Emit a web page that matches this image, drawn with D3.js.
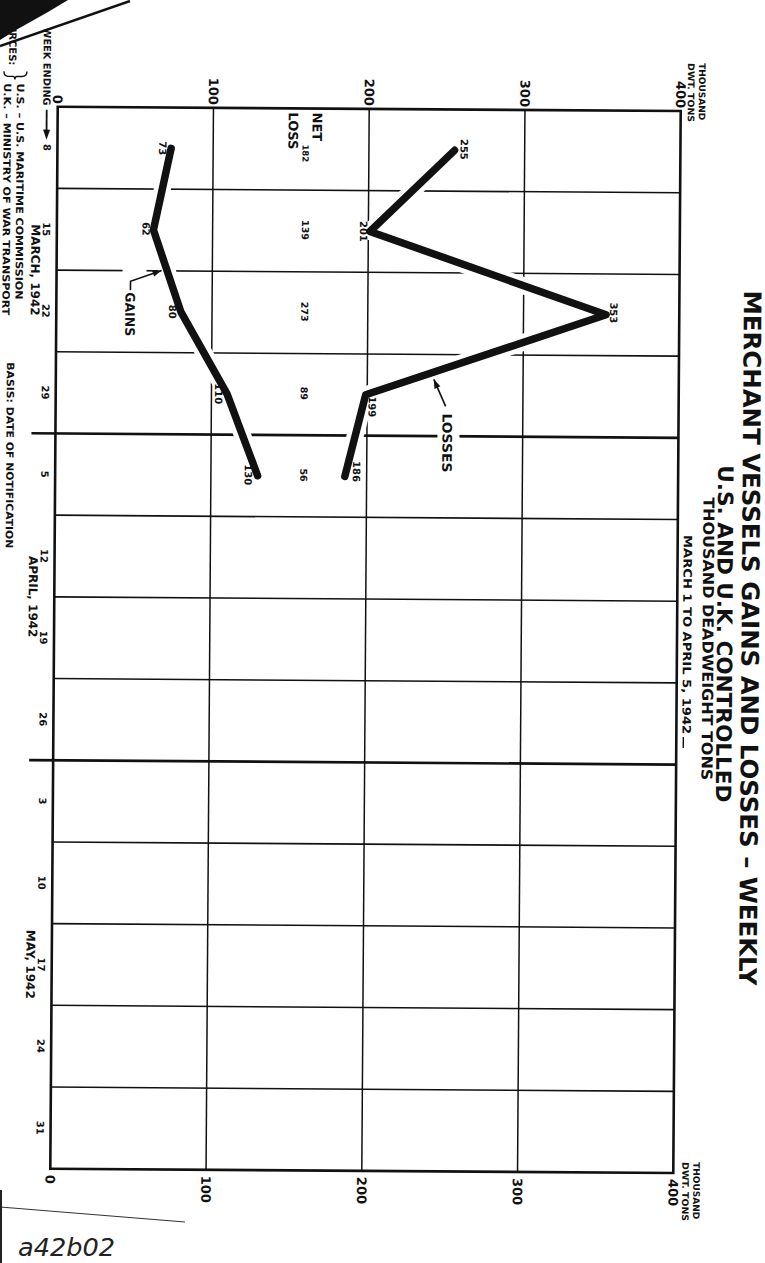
<!DOCTYPE html>
<html><head><meta charset="utf-8">
<script src="https://cdn.jsdelivr.net/npm/d3@7"></script>
<style>html,body{margin:0;padding:0;background:#fff;}svg{display:block;}</style>
</head><body>
<script>
// ---------- DATA ----------
const weekLabels = ["8","15","22","29","5","12","19","26","3","10","17","24","31"];
const monthNames = ["MARCH, 1942","APRIL, 1942","MAY, 1942"];
const weeksPerMonth = [4,4,5];
const valueTicks = [0,100,200,300,400];
const losses = [255,201,353,199,186];
const gains = [73,62,80,110,130];
const netLoss = [182,139,273,89,56];
const titleText = "MERCHANT VESSELS GAINS AND LOSSES \u2013 WEEKLY";
const subtitle1 = "U.S. AND U.K. CONTROLLED";
const subtitle2 = "THOUSAND DEADWEIGHT TONS";
const subtitle3 = "MARCH 1 TO APRIL 5, 1942";
const unitLabel = ["THOUSAND","DWT. TONS"];
const sourceLines = ["U.S. \u2013 U.S. MARITIME COMMISSION","U.K. \u2013 MINISTRY OF WAR TRANSPORT"];

// ---------- SETUP ----------
const W = 765, H = 1263;
const FONT = "'DejaVu Sans', 'Liberation Sans', sans-serif";
const svg = d3.select("body").append("svg").attr("width", W).attr("height", H)
  .style("background", "#fff");

const g = svg.append("g").attr("transform", "rotate(0.4,382,640)");

const x = d3.scaleLinear().domain([0, 400]).range([54, 677]);
const y = d3.scaleBand().domain(d3.range(weekLabels.length)).range([109, 1171]);
const yc = i => y(i) + y.bandwidth() / 2;
const x0 = x(0), x1 = x(400), yTop = y.range()[0], yBot = y.range()[1];

// rotated text helper: bx = baseline x, py = position along page y
function vtext(parent, bx, py, str, o = {}) {
  const t = parent.append("text")
    .attr("transform", `translate(${bx},${py}) rotate(90)`)
    .attr("text-anchor", o.anchor || "middle")
    .attr("font-family", o.family || FONT)
    .attr("font-size", o.size || 10)
    .attr("font-weight", o.weight || "bold")
    .attr("fill", "#111")
    .text(str);
  if (o.len) t.attr("textLength", o.len).attr("lengthAdjust", "spacingAndGlyphs");
  return t;
}

// ---------- GRID ----------
const monthBoundaries = [];
{ let acc = 0; weeksPerMonth.slice(0, -1).forEach(n => { acc += n; monthBoundaries.push(acc); }); }

const grid = g.append("g").attr("stroke", "#111");
valueTicks.slice(1, -1).forEach(v => {
  grid.append("line").attr("x1", x(v)).attr("x2", x(v)).attr("y1", yTop).attr("y2", yBot)
    .attr("stroke-width", 1.5);
});
d3.range(1, weekLabels.length).forEach(i => {
  const isMonth = monthBoundaries.includes(i);
  grid.append("line").attr("x1", isMonth ? x0 - 24 : x0).attr("x2", x1)
    .attr("y1", y(i)).attr("y2", y(i)).attr("stroke-width", isMonth ? 2.6 : 1.6);
});

// ---------- LINES ----------
const lineGen = d3.line().x(d => x(d.v)).y(d => yc(d.i));
const lossPts = losses.map((v, i) => ({ v, i }));
const gainPts = gains.map((v, i) => ({ v, i }));

// white halos that break the grid
[lossPts, gainPts].forEach(pts => {
  g.append("path").attr("d", lineGen(pts)).attr("fill", "none")
    .attr("stroke", "#fff").attr("stroke-width", 17)
    .attr("stroke-linejoin", "round").attr("stroke-linecap", "round");
});
// white gaps for annotations
g.append("rect").attr("x", 436).attr("y", 404).attr("width", 22).attr("height", 72).attr("fill", "#fff");
g.append("rect").attr("x", 120).attr("y", 266).attr("width", 24).attr("height", 76).attr("fill", "#fff");

// frame
g.append("rect").attr("x", x0).attr("y", yTop).attr("width", x1 - x0).attr("height", yBot - yTop)
  .attr("fill", "none").attr("stroke", "#111").attr("stroke-width", 2.6);

[lossPts, gainPts].forEach(pts => {
  g.append("path").attr("d", lineGen(pts)).attr("fill", "none")
    .attr("stroke", "#111").attr("stroke-width", 7.5)
    .attr("stroke-linejoin", "round").attr("stroke-linecap", "round");
});

// ---------- DATA LABELS ----------
const lossOff = [[6, -1], [-10, 0], [4, -2], [3, 12], [8, -5]];
const gainOff = [[-12, 0], [-11, -1], [-12, 0], [-12, 0], [-13, -1]];
losses.forEach((v, i) => vtext(g, x(v) + lossOff[i][0], yc(i) + lossOff[i][1], v, { size: 10 }));
gains.forEach((v, i) => vtext(g, x(v) + gainOff[i][0], yc(i) + gainOff[i][1], v, { size: 10 }));
netLoss.forEach((v, i) => vtext(g, 299, yc(i) + (i === 0 ? 4 : -1), v, { size: i === 0 ? 8.5 : 9.5 }));
vtext(g, 309, yTop + 4, "NET", { size: 13, anchor: "start" });
vtext(g, 285, yTop + 4, "LOSS", { size: 13, anchor: "start" });

// annotations
vtext(g, 441, 413, "LOSSES", { size: 13, anchor: "start", len: 59 });
vtext(g, 123, 294, "GAINS", { size: 13, anchor: "start", len: 44 });
function arrow(pts) {
  const n = pts.length, [ax, ay] = pts[n - 1], [bx, by] = pts[n - 2];
  g.append("path").attr("d", d3.line()(pts)).attr("fill", "none").attr("stroke", "#111").attr("stroke-width", 1.6);
  const ang = Math.atan2(ay - by, ax - bx), L = 9, w = 3.2;
  const p1 = [ax - L * Math.cos(ang) + w * Math.sin(ang), ay - L * Math.sin(ang) - w * Math.cos(ang)];
  const p2 = [ax - L * Math.cos(ang) - w * Math.sin(ang), ay - L * Math.sin(ang) + w * Math.cos(ang)];
  g.append("path").attr("d", `M${ax},${ay}L${p1}L${p2}Z`).attr("fill", "#111");
}
arrow([[444, 406], [432, 379]]);
arrow([[128, 292], [128, 283], [159, 272]]);

// ---------- VALUE AXIS LABELS ----------
valueTicks.forEach(v => {
  vtext(g, x(v) - 4.7, yTop - 3, v, { size: 13, anchor: "end" });
  vtext(g, x(v) - 4.7, yBot + 6, v, { size: 13, anchor: "start" });
});
vtext(g, 695, 61, unitLabel[0], { size: 9, anchor: "start", len: 57 });
vtext(g, 684, 61, unitLabel[1], { size: 9, anchor: "start", len: 59 });
vtext(g, 697, 1160, unitLabel[0], { size: 9, anchor: "start", len: 57 });
vtext(g, 686, 1160, unitLabel[1], { size: 9, anchor: "start", len: 59 });

// ---------- WEEK AXIS LABELS ----------
weekLabels.forEach((w, i) => vtext(g, 40, yc(i), w, { size: 10 }));
{
  let start = 0;
  monthNames.forEach((m, k) => {
    const n = weeksPerMonth[k];
    const mid = (yc(start) + yc(start + n - 1)) / 2;
    vtext(g, 28.5, mid, m, { size: 12 });
    start += n;
  });
}
vtext(g, 39.5, 30, "WEEK ENDING", { size: 10, anchor: "start", len: 78 });
g.append("line").attr("x1", 43).attr("x2", 43).attr("y1", 112).attr("y2", 134).attr("stroke", "#111").attr("stroke-width", 1.8);
g.append("path").attr("d", "M43,142L39.5,132L46.5,132Z").attr("fill", "#111");

// sources
vtext(g, 5, 68, "SOURCES:", { size: 10, anchor: "end" });
g.append("path").attr("d", "M23,74 Q23,79 18,79 L13,79 Q11,79 11,82 Q11,79 9,79 L4,79 Q0,79 0,74")
  .attr("fill", "none").attr("stroke", "#111").attr("stroke-width", 1.4);
vtext(g, 13, 86, sourceLines[0], { size: 10, anchor: "start", len: 216 });
vtext(g, 0, 86, sourceLines[1], { size: 10, anchor: "start", len: 232 });
vtext(g, 5, 365, "BASIS: DATE OF NOTIFICATION", { size: 10, anchor: "start", len: 186 });

// ---------- TITLES ----------
vtext(g, 741.5, 288, titleText, { size: 24, anchor: "start", len: 695 });
vtext(g, 717, 463, subtitle1, { size: 21, anchor: "start", len: 337 });
vtext(g, 702.5, 495, subtitle2, { size: 15, anchor: "start", len: 283 });
vtext(g, 683, 533, subtitle3, { size: 11.5, anchor: "start", len: 199 });
g.append("line").attr("x1", 684).attr("x2", 684).attr("y1", 735).attr("y2", 746).attr("stroke", "#111").attr("stroke-width", 1.4);

// ---------- SCAN MARKS ----------
svg.append("path").attr("d", "M0,0L68,0L48,12L16,30L0,40Z").attr("fill", "#111");
svg.append("line").attr("x1", 0).attr("y1", 46).attr("x2", 130).attr("y2", 1).attr("stroke", "#111").attr("stroke-width", 2.5);
svg.append("line").attr("x1", 0).attr("y1", 1207).attr("x2", 185).attr("y2", 1222).attr("stroke", "#333").attr("stroke-width", 1.2);
svg.append("line").attr("x1", 1).attr("y1", 1190).attr("x2", 1).attr("y2", 1263).attr("stroke", "#222").attr("stroke-width", 2);
svg.append("text").attr("x", 18).attr("y", 1256).attr("font-family", FONT).attr("font-size", 25)
  .attr("font-style", "italic").attr("fill", "#222").attr("textLength", 97).attr("lengthAdjust", "spacingAndGlyphs")
  .text("a42b02");
</script>
</body></html>
